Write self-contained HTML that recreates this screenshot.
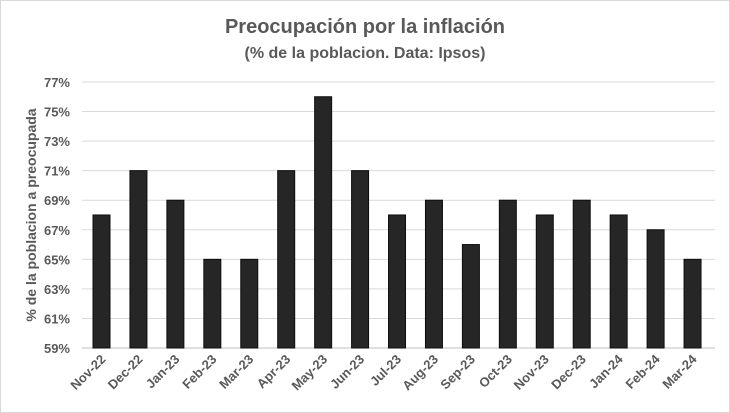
<!DOCTYPE html>
<html><head><meta charset="utf-8"><style>
body{margin:0;background:#fff}
svg{display:block}
text{font-family:"Liberation Sans",sans-serif;fill:#595959}
</style></head><body>
<svg width="730" height="413" viewBox="0 0 730 413" xmlns="http://www.w3.org/2000/svg">
<rect x="0.5" y="0.5" width="729" height="412" fill="#fff" stroke="#d9d9d9"/>
<g id="grid" stroke="#d9d9d9" stroke-width="1"></g>
<g id="yl" font-size="13" font-weight="bold" text-anchor="end"></g>
<g id="bars"></g>
<g id="xl" font-size="13" font-weight="bold" text-anchor="end"></g>
<text x="365" y="33" text-anchor="middle" font-size="20" font-weight="bold">Preocupación por la inflación</text>
<text x="365" y="58" text-anchor="middle" font-size="16" font-weight="bold">(% de la poblacion. Data: Ipsos)</text>
<text transform="translate(36,215) rotate(-90)" text-anchor="middle" font-size="14" font-weight="bold">% de la poblacion a preocupada</text>
</svg>
<script>
var ns="http://www.w3.org/2000/svg";
function el(p,t,a,txt){var e=document.createElementNS(ns,t);for(var k in a)e.setAttribute(k,a[k]);if(txt)e.textContent=txt;document.getElementById(p).appendChild(e);}
function Y(v){return 348-(v-59)*14.78;}
for(var v=59;v<=77;v+=2){var y=Y(v);el("grid","line",{x1:82,x2:715,y1:y,y2:y,stroke:v==59?"#bfbfbf":"#d9d9d9"});el("yl","text",{x:70,y:y+5},v+"%");}
var vals=[68,71,69,65,65,71,76,71,68,69,66,69,68,69,68,67,65];
var labs=["Nov-22","Dec-22","Jan-23","Feb-23","Mar-23","Apr-23","May-23","Jun-23","Jul-23","Aug-23","Sep-23","Oct-23","Nov-23","Dec-23","Jan-24","Feb-24","Mar-24"];
for(var i=0;i<17;i++){var cx=101.5+i*36.94;el("bars","rect",{x:cx-8.5,y:Y(vals[i]),width:17,height:348-Y(vals[i]),fill:"#262626",stroke:"#0d0d0d","stroke-width":1});
el("xl","text",{transform:"translate("+(cx+5)+",360) rotate(-45)"},labs[i]);}
</script>
</body></html>
